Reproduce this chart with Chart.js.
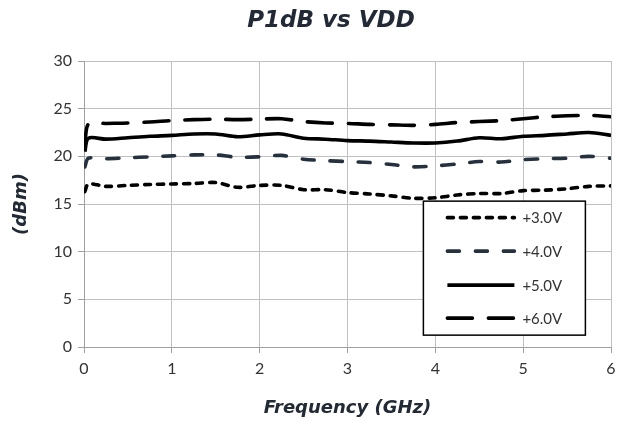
<!DOCTYPE html>
<html>
<head>
<meta charset="utf-8">
<script src="https://cdn.jsdelivr.net/npm/chart.js@4"></script>
<style>
html,body{margin:0;padding:0;background:#fff;}
#wrap{width:628px;height:424px;position:relative;}
</style>
</head>
<body>
<div id="wrap"><canvas id="c" width="628" height="424"></canvas></div>
<script>
const frequencies = [0.01, 0.05, 0.25, 0.5, 0.75, 1.0, 1.25, 1.5, 1.75, 2.0, 2.25, 2.5, 2.75, 3.0, 3.25, 3.5, 3.75, 4.0, 4.25, 4.5, 4.75, 5.0, 5.25, 5.5, 5.75, 6.0];
const p1dB_3V0 = [16.3, 17.1, 16.85, 16.95, 17.05, 17.1, 17.15, 17.25, 16.75, 16.95, 16.95, 16.5, 16.5, 16.2, 16.05, 15.85, 15.6, 15.65, 15.95, 16.1, 16.1, 16.4, 16.45, 16.6, 16.85, 16.9];
const p1dB_4V0 = [18.9, 19.8, 19.75, 19.85, 19.95, 20.05, 20.15, 20.15, 19.9, 19.95, 20.1, 19.7, 19.55, 19.45, 19.35, 19.15, 18.9, 19.0, 19.2, 19.45, 19.4, 19.65, 19.75, 19.8, 20.0, 19.8];
const p1dB_5V0 = [20.5, 21.9, 21.8, 21.95, 22.1, 22.2, 22.35, 22.35, 22.05, 22.25, 22.35, 21.9, 21.8, 21.65, 21.6, 21.5, 21.4, 21.4, 21.6, 21.95, 21.85, 22.1, 22.2, 22.35, 22.5, 22.2];
const p1dB_6V0 = [20.7, 23.4, 23.45, 23.5, 23.6, 23.75, 23.85, 23.9, 23.85, 23.9, 23.95, 23.65, 23.5, 23.45, 23.35, 23.3, 23.25, 23.35, 23.55, 23.65, 23.75, 23.95, 24.15, 24.25, 24.3, 24.15];
const seriesLabels = ['+3.0V', '+4.0V', '+5.0V', '+6.0V'];
const xTicks = [0, 1, 2, 3, 4, 5, 6];
const yTicks = [0, 5, 10, 15, 20, 25, 30];
const chartTitle = 'P1dB vs VDD';
const xTitle = 'Frequency (GHz)';
const yTitle = '(dBm)';

const seriesValues = [p1dB_3V0, p1dB_4V0, p1dB_5V0, p1dB_6V0];
const styles = [
  {color: '#000000', dash: [6, 7]},
  {color: '#263140', dash: [12, 16]},
  {color: '#000000', dash: []},
  {color: '#000000', dash: [25, 16]}
];

const datasets = seriesValues.map((vals, i) => ({
  label: seriesLabels[i],
  data: frequencies.map((f, j) => ({x: f, y: vals[j]})),
  borderColor: styles[i].color,
  backgroundColor: styles[i].color,
  borderWidth: 3.6,
  borderDash: styles[i].dash,
  borderCapStyle: styles[i].dash.length ? 'round' : 'butt',
  borderJoinStyle: 'round',
  pointRadius: 0,
  tension: 0.3,
  fill: false
}));

const titleFont = 'bold italic 23px "DejaVu Sans", sans-serif';

const extras = {
  id: 'extras',
  afterDraw(chart) {
    const ctx = chart.ctx;
    const ca = chart.chartArea;
    ctx.save();
    // title
    ctx.font = titleFont;
    ctx.fillStyle = '#222a35';
    ctx.textAlign = 'center';
    ctx.textBaseline = 'middle';
    ctx.fillText(chartTitle, 331, 21);
    // legend box
    const w = ca.right - ca.left, h = ca.bottom - ca.top;
    const bx = ca.left + 0.644 * w, by = ca.top + 0.49 * h;
    const bw = 162, bh = 134;
    ctx.fillStyle = '#ffffff';
    ctx.fillRect(bx, by, bw, bh);
    ctx.strokeStyle = '#000000';
    ctx.lineWidth = 1.5;
    ctx.strokeRect(bx, by, bw, bh);
    const rows = [16.5, 50, 84, 117];
    chart.data.datasets.forEach((ds, i) => {
      const yy = by + rows[i];
      ctx.beginPath();
      ctx.setLineDash(ds.borderDash);
      ctx.lineCap = ds.borderDash.length ? 'round' : 'butt';
      ctx.strokeStyle = ds.borderColor;
      ctx.lineWidth = 3.6;
      ctx.moveTo(bx + 24, yy);
      ctx.lineTo(bx + 91, yy);
      ctx.stroke();
      ctx.setLineDash([]);
      ctx.font = '15px Lato, sans-serif';
      ctx.fillStyle = '#333333';
      ctx.textAlign = 'left';
      ctx.textBaseline = 'middle';
      ctx.fillText(ds.label, bx + 99, yy + 1);
    });
    ctx.restore();
  }
};

new Chart(document.getElementById('c'), {
  type: 'line',
  data: {datasets},
  options: {
    responsive: false,
    animation: false,
    devicePixelRatio: 1,
    layout: {padding: {top: 61, right: 17, left: 0, bottom: 0}},
    plugins: {legend: {display: false}, title: {display: false}, tooltip: {enabled: false}},
    scales: {
      x: {
        type: 'linear',
        min: 0, max: 6,
        afterBuildTicks: (s) => { s.ticks = xTicks.map(v => ({value: v})); },
        afterFit: (s) => { s.height = 77; },
        grid: {color: '#c0c0c0', lineWidth: 1, tickLength: 6, drawTicks: true, tickColor: '#a0a0a0'},
        border: {color: '#a0a0a0', width: 1},
        ticks: {color: '#333333', font: {family: 'Lato', size: 16}, padding: 6, maxRotation: 0},
        title: {display: true, text: xTitle, color: '#222a35', font: {family: 'DejaVu Sans', size: 18, style: 'italic', weight: 'bold'}, padding: {top: 0, bottom: 5}}
      },
      y: {
        type: 'linear',
        min: 0, max: 30,
        afterBuildTicks: (s) => { s.ticks = yTicks.map(v => ({value: v})); },
        afterFit: (s) => { s.width = 84; },
        grid: {color: '#c0c0c0', lineWidth: 1, tickLength: 6, drawTicks: true, tickColor: '#a0a0a0'},
        border: {color: '#a0a0a0', width: 1},
        ticks: {color: '#333333', font: {family: 'Lato', size: 16}, padding: 6},
        title: {display: true, text: yTitle, color: '#222a35', font: {family: 'DejaVu Sans', size: 18, style: 'italic', weight: 'bold'}, padding: {top: 11, bottom: 0}}
      }
    }
  },
  plugins: [extras]
});
</script>
</body>
</html>
